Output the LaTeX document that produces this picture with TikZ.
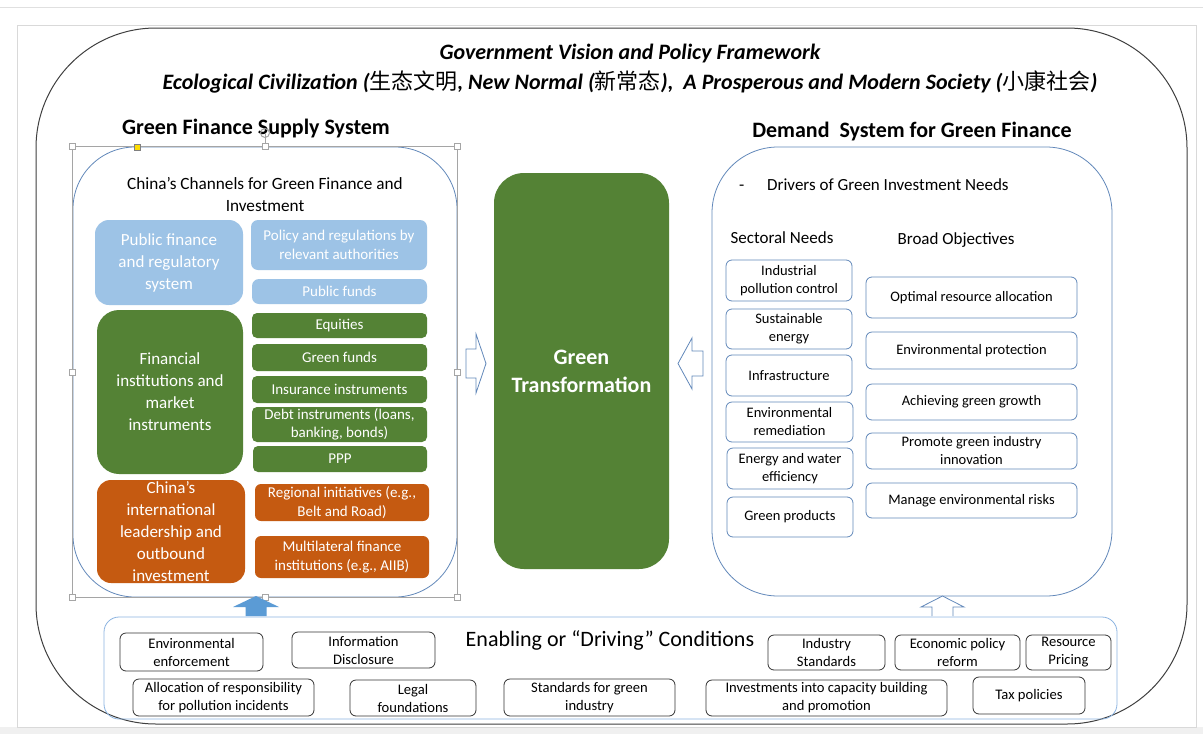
\documentclass[tikz,border=0pt]{standalone}
\usepackage{fontspec}
\setmainfont{Carlito}
\newfontfamily\cjk{Noto Sans CJK SC}
\definecolor{lblue}{RGB}{157,195,230}
\definecolor{dgreen}{RGB}{84,130,53}
\definecolor{orng}{RGB}{197,90,17}
\definecolor{bord}{RGB}{98,136,186}
\definecolor{ebord}{RGB}{140,180,225}
\definecolor{arblue}{RGB}{91,155,213}
\definecolor{selgray}{RGB}{165,165,165}
\newcommand\fs[2]{\fontsize{#1}{#2}\selectfont}
\newcommand\bx[7]{\node[#6,minimum width={#4pt-#2pt},minimum height={#5pt-#3pt}] (#1) at ({(#2+#4)/2},{(#3+#5)/2}) {#7};}
\tikzset{
  base/.style={inner sep=0pt,align=center},
  bluesm/.style={base,fill=lblue,text=white,rounded corners=7,font=\fs{15}{18.5}},
  bluebig/.style={base,fill=lblue,text=white,rounded corners=14,font=\fs{17}{22}},
  greensm/.style={base,fill=dgreen,text=white,rounded corners=5,font=\fs{15}{18.5}},
  greenbig/.style={base,fill=dgreen,text=white,rounded corners=22,font=\fs{17}{22}},
  orangesm/.style={base,fill=orng,text=white,rounded corners=6,font=\fs{15}{18.5}},
  orangebig/.style={base,fill=orng,text=white,rounded corners=14,font=\fs{17}{22}},
  needbox/.style={base,draw=bord,fill=white,line width=0.8pt,rounded corners=6,font=\fs{14.5}{18}},
  condbox/.style={base,draw=black!80,fill=white,line width=0.8pt,rounded corners=6,font=\fs{14.6}{18}},
  handle/.style={draw=selgray,fill=white,minimum size=6pt,inner sep=0pt,line width=0.5pt},
  hollow/.style={draw=bord,fill=white,line width=0.8pt,line join=miter},
  lbl/.style={base,font=\fs{17}{19}},
}
\begin{document}
\begin{tikzpicture}[x=1pt,y=-1pt]
\useasboundingbox (0,0) rectangle (1203,734);
\fill[white] (0,0) rectangle (1203,734);
\fill[black!6] (0,727) rectangle (1203,734);
\draw[black!12,line width=1pt] (0,7.5) -- (1203,7.5);
\draw[black!15,line width=0.8pt] (17,25) rectangle (1196,727);
% outer frame
\node[draw=black!75,line width=1pt,rounded corners=120,minimum width=1151pt,minimum height=696pt,inner sep=0pt] (outer) at (611.5,376) {};
% titles
\node[base,font=\fs{22}{26}\bfseries\itshape] (t1) at (630,54) {Government Vision and Policy Framework};
\node[base,font=\fs{22}{26}\bfseries\itshape] (t2) at (630,82) {Ecological Civilization ({\cjk\mdseries\upshape 生态文明}, New Normal ({\cjk\mdseries\upshape 新常态}),\ \ A Prosperous and Modern Society ({\cjk\mdseries\upshape 小康社会})};
\node[base,font=\fs{22}{26}\bfseries] (h1) at (256,129) {Green Finance Supply System};
\node[base,font=\fs{22}{26}\bfseries] (h2) at (912,132) {Demand\ \ System for Green Finance};
% supply box
\node[draw=bord,line width=0.8pt,rounded corners=62,minimum width=384pt,minimum height=450pt,inner sep=0pt] (supply) at (265,372) {};
% selection frame
\draw[selgray,line width=0.6pt] (supply.north west) rectangle (supply.south east);
\coordinate (rot) at (265,133);
\draw[selgray,line width=0.6pt] (rot) -- (supply.north);
\draw[selgray,line width=1pt] (rot) circle (4.5pt);
\foreach \p in {north west,north,north east,west,east,south west,south,south east}
  \node[handle] at (supply.\p) {};
\node[handle,fill=yellow!80!orange,draw=black!50] (yel) at (137,147) {};
\node[base,font=\fs{17.2}{22}] (chan) at (265,194) {China's Channels for Green Finance and\\Investment};
\bx{pf}{95}{220}{243}{305}{bluebig}{Public finance\\and regulatory\\system}
\bx{fi}{97}{310}{243}{474}{greenbig}{Financial\\institutions and\\market\\instruments}
\bx{ci}{97}{480}{245}{583}{orangebig}{China's\\international\\leadership and\\outbound\\investment}
\bx{pr}{251}{220}{427}{270}{bluesm}{Policy and regulations by\\relevant authorities}
\bx{pu}{252}{279}{427}{304}{bluesm}{Public funds}
\bx{eq}{252}{313}{427}{338}{greensm}{Equities}
\bx{gf}{252}{344}{427}{371}{greensm}{Green funds}
\bx{ii}{252}{376}{427}{403}{greensm}{Insurance instruments}
\bx{di}{252}{407}{427}{442}{greensm}{Debt instruments (loans,\\banking, bonds)}
\bx{ppp}{253}{446}{427}{472}{greensm}{PPP}
\bx{ri}{255}{484}{429}{521}{orangesm}{Regional initiatives (e.g.,\\Belt and Road)}
\bx{mf}{255}{536}{429}{578}{orangesm}{Multilateral finance\\institutions (e.g., AIIB)}
% green transformation
\bx{gt}{494}{173}{669}{569}{base,fill=dgreen,text=white,rounded corners=30,font=\fs{22}{28}\bfseries}{Green\\Transformation}
% demand box
\node[draw=bord,line width=0.8pt,rounded corners=66,minimum width=400pt,minimum height=449pt,inner sep=0pt] (demand) at (912,371.5) {};
\node[lbl,anchor=base west] (dash) at (739,190) {-};
\node[lbl,anchor=base west] (drv) at (767,190) {Drivers of Green Investment Needs};
\node[lbl] (sn) at (782,238) {Sectoral Needs};
\node[lbl] (bo) at (956,240) {Broad Objectives};
\bx{s1}{726}{260}{852}{301}{needbox}{Industrial\\pollution control}
\bx{s2}{726}{309}{852}{349}{needbox}{Sustainable\\energy}
\bx{s3}{726}{355}{852}{396}{needbox}{Infrastructure}
\bx{s4}{726}{402}{853}{442}{needbox}{Environmental\\remediation}
\bx{s5}{727}{448}{853}{489}{needbox}{Energy and water\\efficiency}
\bx{s6}{727}{497}{853}{537}{needbox}{Green products}
\bx{b1}{866}{277}{1077}{318}{needbox}{Optimal resource allocation}
\bx{b2}{866}{332}{1077}{369}{needbox}{Environmental protection}
\bx{b3}{866}{384}{1077}{420}{needbox}{Achieving green growth}
\bx{b4}{866}{433}{1077}{469}{needbox}{Promote green industry\\innovation}
\bx{b5}{866}{483}{1077}{518}{needbox}{Manage environmental risks}
% block arrows
\draw[hollow] (466,349) -- (476,349) -- (476,334) -- (486,363.5) -- (476,393) -- (476,378) -- (466,378) -- cycle;
\draw[hollow] (703,351) -- (692,351) -- (692,338) -- (678,363.5) -- (692,389) -- (692,376) -- (703,376) -- cycle;
% enabling box
\node[draw=ebord,line width=0.8pt,rounded corners=15,minimum width=1013pt,minimum height=102pt,inner sep=0pt] (enab) at (610.5,668) {};
\fill[arblue] (245.5,616) -- (245.5,607) -- (233,607) -- (256,596) -- (279,607) -- (266.5,607) -- (266.5,616) -- cycle;
\draw[hollow] (932,616) -- (932,607) -- (921,607) -- (942.5,596) -- (964,607) -- (953,607) -- (953,616);
\node[base,font=\fs{22}{26}] (et) at (610,640) {Enabling or ``Driving'' Conditions};
\bx{c1}{120}{633}{263}{671}{condbox}{Environmental\\enforcement}
\bx{c2}{292}{632}{435}{668}{condbox}{Information\\Disclosure}
\bx{c3}{133}{679}{314}{716}{condbox}{Allocation of responsibility\\for pollution incidents}
\bx{c4}{350}{680}{476}{716}{condbox}{Legal\\foundations}
\bx{c5}{504}{679}{675}{716}{condbox}{Standards for green\\industry}
\bx{c6}{768}{635}{885}{670}{condbox}{Industry\\Standards}
\bx{c7}{895}{635}{1020}{670}{condbox}{Economic policy\\reform}
\bx{c8}{1026}{635}{1111}{670}{condbox}{Resource\\Pricing}
\bx{c9}{706}{680}{947}{716}{condbox}{Investments into capacity building\\and promotion}
\bx{c10}{973}{677}{1085}{714}{condbox}{Tax policies}
\end{tikzpicture}
\end{document}
